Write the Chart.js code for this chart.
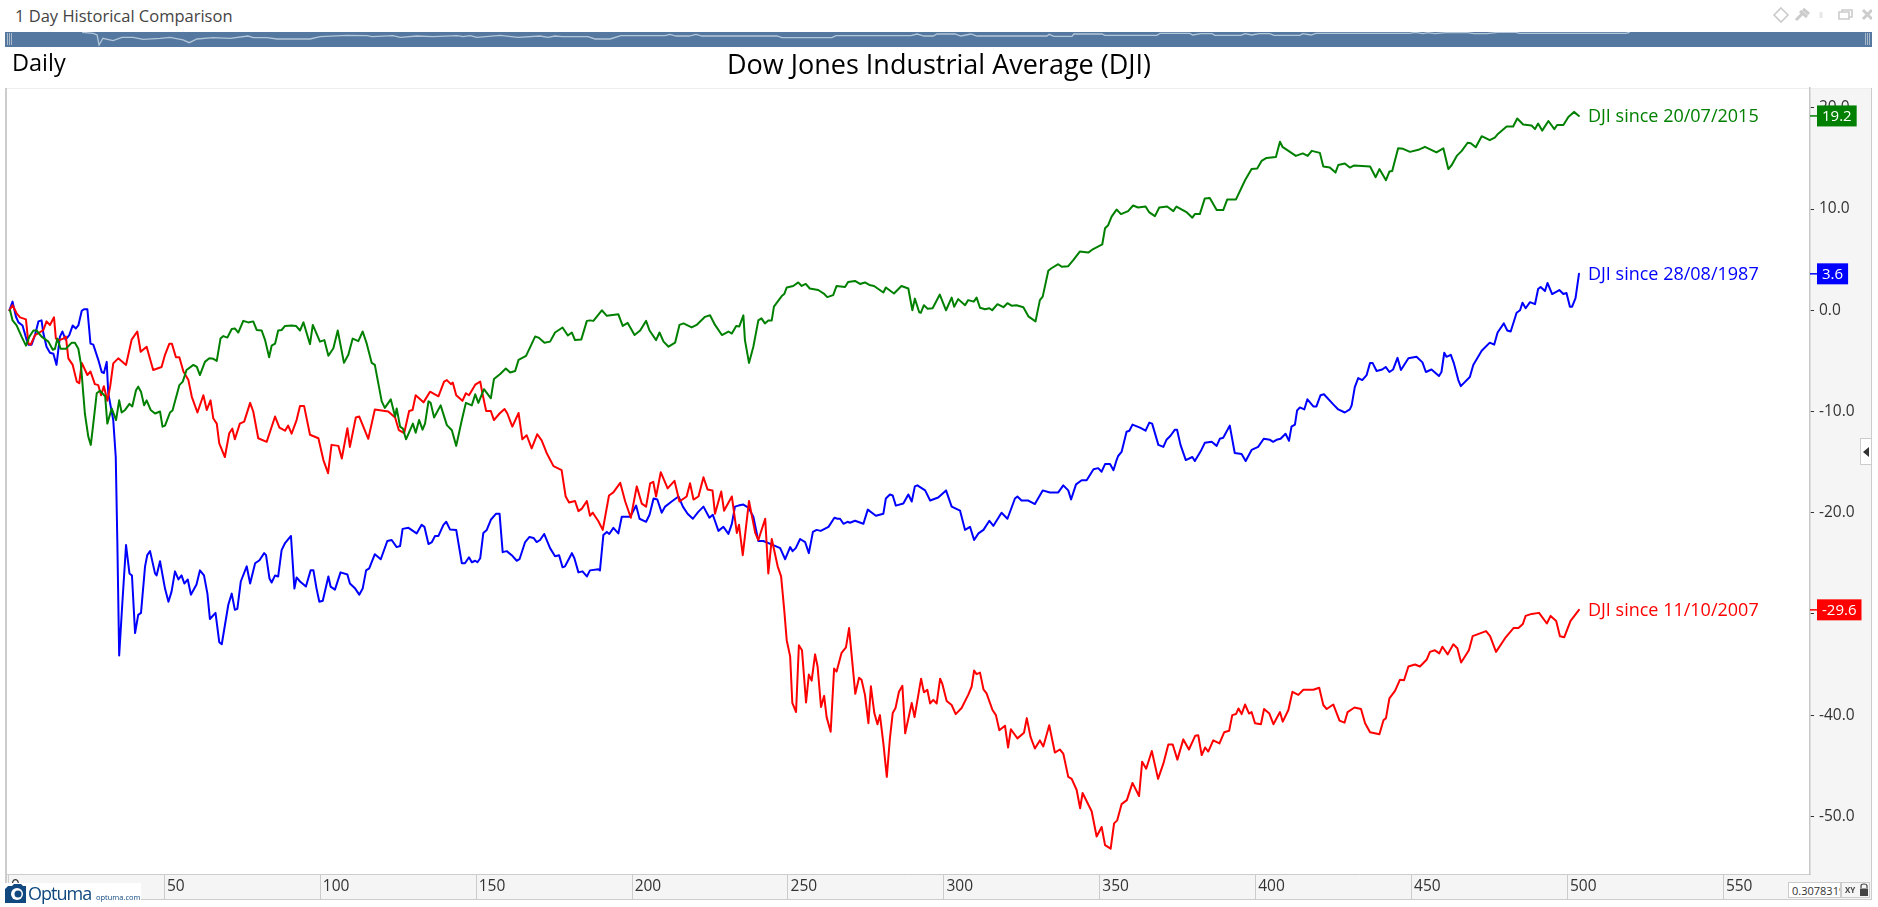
<!DOCTYPE html>
<html>
<head>
<meta charset="utf-8">
<title>Dow Jones Industrial Average (DJI)</title>
<script src="https://cdn.jsdelivr.net/npm/chart.js@4/dist/chart.umd.min.js"></script>
<style>
  html, body { margin: 0; padding: 0; background: #fff; width: 1878px; height: 907px; overflow: hidden; }
  body { font-family: "Open Sans", sans-serif; color: #333; }
  .abs { position: absolute; }
  #chart { position: absolute; left: 0; top: 0; }
  #overview { position: absolute; left: 5px; top: 32px; }
  .grip { position: absolute; top: 33px; width: 5px; height: 12px;
          background: repeating-linear-gradient(90deg, #a9b9ca 0 1px, transparent 1px 2px); }
</style>
</head>
<body>
<!-- panels behind the chart -->
<div class="abs" style="left:1810px;top:88px;width:61px;height:786px;background:#f5f5f5"></div>
<div class="abs" style="left:6px;top:874px;width:1865px;height:25px;background:#f5f5f5;border-bottom:1px solid #ccc"></div>
<div class="abs" style="left:6px;top:88px;width:1865px;height:1px;background:#eee"></div>
<div class="abs" style="left:5px;top:88px;width:2px;height:812px;background:#ccc"></div>
<div class="abs" style="left:1871px;top:88px;width:1px;height:812px;background:#ccc"></div>

<!-- header -->
<div class="abs" style="left:15px;top:5px;font-size:16.5px;line-height:22px;color:#444">1 Day Historical Comparison</div>
<svg class="abs" style="left:1772px;top:6px" width="100" height="18" fill="none" stroke="#ccc" stroke-width="1.6">
  <path d="M9 2 L16 9 L9 16 L2 9 Z"/>
  <path d="M24 14 L30 8 M28 5 L35 11 M31 3 L37 8" stroke-width="3"/>
  <path d="M49 6 V12" stroke="#e6e6e6" stroke-width="3"/>
  <path d="M67 6 H77 V13 H67 Z M70 6 V4 H80 V11 H77"/>
  <path d="M91 4 L100 13 M100 4 L91 13" stroke-width="3"/>
</svg>
<div class="abs" style="left:5px;top:32px;width:1867px;height:15px;background:#54789f"></div>
<canvas id="overview" width="1867" height="15"></canvas>
<div class="grip" style="left:7px"></div>
<div class="grip" style="left:1865px"></div>
<div class="abs" style="left:12px;top:47px;font-size:23.5px;line-height:30px;color:#000">Daily</div>
<div class="abs" style="left:0;top:47px;width:1878px;text-align:center;font-size:27px;line-height:34px;color:#000">Dow Jones Industrial Average (DJI)</div>

<canvas id="chart" width="1878" height="907"></canvas>

<!-- things sitting on top of the axes -->
<div class="abs" style="left:1860px;top:438px;width:11px;height:27px;background:#fff;border:1px solid #ccc;border-right:0;box-sizing:border-box"></div>
<svg class="abs" style="left:1862px;top:447px" width="8" height="10"><path d="M7 0 V10 L1 5 Z" fill="#333"/></svg>

<div class="abs" style="left:5px;top:883px;width:136px;height:17px;background:#fff"></div>
<svg class="abs" style="left:5px;top:883px" width="22" height="20">
  <path d="M3 3 H7 L9 1 H16 L18 3 H21 V20 H0 V6 Z" fill="#10487f"/>
  <circle cx="12" cy="11" r="6" fill="#fff"/>
  <circle cx="13" cy="11" r="3.5" fill="#10487f"/>
</svg>
<div class="abs" style="left:28px;top:880px;font-size:18px;line-height:26px;letter-spacing:-1px;color:#10487f">Optuma</div>
<div class="abs" style="left:96px;top:891px;font-size:7.5px;line-height:12px;color:#10487f">optuma.com</div>

<div class="abs" style="left:1788px;top:882px;width:53px;height:16px;background:#fff;border:1px solid #ccc;box-sizing:border-box;overflow:hidden;font-size:11px;line-height:15px;padding-left:3px;white-space:nowrap">0.3078319</div>
<div class="abs" style="left:1841px;top:882px;width:29px;height:16px;border:1px solid #ccc;box-sizing:border-box"></div>
<div class="abs" style="left:1845px;top:883px;font-size:8px;line-height:13px;font-weight:700;color:#444">XY</div>
<svg class="abs" style="left:1859px;top:883px" width="10" height="14">
  <path d="M2 5 V3 Q2 1 5 1 Q8 1 8 3 V5" fill="none" stroke="#444" stroke-width="1.2"/>
  <rect x="1" y="5.5" width="8" height="7.5" fill="#444"/>
</svg>

<script>
// Day counts and % change, one pair of arrays per line
const greenDays = [0.5,1.3,2.6,4.2,5.6,6.7,8,9,10.6,12.8,14.2,14.9,15.7,16.7,18.4,20.3,21.3,22.4,23.2,24.5,25.6,26.4,27.2,28.3,29.3,31,31.7,33.1,34.5,35.5,36.3,37.4,38.8,39.7,40.9,41.6,42.5,43.5,44.3,45.6,47,48.6,49.4,50.2,51.8,52.6,54.8,55.9,57.1,59.3,60.4,61.4,63,64.4,65.7,66.8,68,68.9,70.2,71.6,72.6,73.7,75.3,76.9,78.5,79.6,81.2,82.3,83.6,84.4,85.5,86.5,87.6,88.7,90.8,92.2,93.5,94.6,96.7,97.6,98.8,99.9,101.3,102.6,104.2,105.6,107.6,109,110.4,112.2,113.6,114.9,116.5,117.5,119.7,120.7,122.6,124,124.5,125.6,126.5,127.5,129.7,130.6,131.7,132.8,133.6,134.7,135.4,136.5,138.6,140.6,142.2,143.6,145.4,146.7,148.6,149.7,150.7,152.5,154.7,155.7,157.7,159.5,160.9,162.5,163.6,166,168.9,170,171.9,173.7,175.3,177.7,179.4,180.7,181.7,183.7,185.5,186.5,187.6,190.3,191.9,195.6,197,198.6,200.8,202.6,204.5,205.6,207.7,208.8,210.1,211.7,213.8,215.2,216.5,219.1,220.7,223.4,225,226.6,228.8,230.9,232,233.4,234.4,235.7,236.2,237.5,238.9,240.5,241.5,242.6,243.7,244.8,245.5,248,248.8,249.6,251.7,253.3,254.4,255.7,257,259.7,261.5,262.6,264.5,265.6,268.3,269.3,271.5,273.1,274.7,276.1,277.6,280.6,281.4,284,286.4,288.6,289.9,290.7,292.1,292.6,293.6,294.8,296.4,298.7,300.7,302.5,303.3,304.6,306.8,307.8,309.6,310.5,311.6,313.2,314.6,315.5,317.2,319.1,320.4,321.7,323.3,325.5,327.1,329.4,330.8,331.7,333.5,334.5,336.7,337.8,339.9,341.5,343.6,346.3,347.9,350.8,351.7,352.7,353.8,355.4,356.8,359.1,360.7,362.3,364.7,365.8,367.7,369.1,371.6,373.6,374.6,377.8,379.7,380.5,382.1,383.7,385.3,387.5,389.6,390.9,393.7,396.6,398.7,400.5,401.9,403.5,406.5,407.8,408.6,411,412.9,415.1,416.7,418,420.6,421.7,423.8,425.6,426.5,428.6,430.2,431.5,436.7,438.5,439.7,441.8,442.9,443.8,445.7,447.3,449.5,452.2,454.3,458,460.2,461.8,462.9,464.5,466.1,468,469,470.6,472.5,475.1,476.7,477.8,480.5,482.6,483.9,485.8,488.5,489.6,490.6,491.9,493.9,495.8,496.7,498.7,500.3,502.1,503.7];
const greenValues = [0,-1,-1.5,-2.6,-3.5,-2.6,-2,-2,-2.6,-3.1,-3.9,-3.8,-2.8,-3.8,-3.8,-3.2,-3.2,-3.8,-5.25,-10.2,-12.5,-13.3,-11.2,-8.2,-7.95,-8.5,-11.2,-9.7,-10.85,-8.9,-10.1,-9.85,-9.25,-9.5,-7.9,-7.55,-8.05,-9.4,-8.9,-9.85,-10.2,-10,-11.5,-11.4,-10.1,-9.9,-7.4,-7.05,-5.9,-5.4,-5.6,-6.4,-5.1,-4.75,-4.8,-5,-2.8,-2.55,-2.7,-1.85,-1.8,-2.2,-1.05,-1.2,-1.1,-1.95,-2,-2.95,-4.65,-3.5,-3.3,-2,-1.95,-1.55,-1.5,-1.55,-2,-1.2,-3.35,-1.45,-2.3,-3.1,-2.95,-4.5,-3.75,-2,-5.2,-4.4,-2.8,-3.05,-2.1,-3.3,-5.2,-5.4,-9,-9.65,-8.8,-10.5,-9.7,-11.5,-11.7,-12.75,-11.2,-12.1,-10.85,-11.8,-11.2,-9,-9.15,-10.6,-9.4,-11.35,-11.85,-13.4,-10.85,-9.15,-9.4,-8.3,-9.15,-7.8,-8.7,-6.8,-6.3,-5.75,-6.15,-6,-4.9,-4.5,-2.6,-2.7,-3.2,-3.1,-2.2,-1.7,-2.5,-2.2,-2.95,-2.9,-1.05,-1,-1.05,0,-0.55,-0.4,-1.55,-1.25,-2.45,-2,-1.05,-2,-2.95,-2.2,-3.1,-3.6,-3.2,-1.45,-1.3,-1.7,-1.45,-0.65,-0.5,-1.45,-2.45,-2.1,-2.3,-1.55,-1.6,-0.5,-2.95,-5.2,-3.6,-1,-0.8,-1.3,-1,-1,0.35,1.4,1.6,2.25,2.4,2.75,2.4,2.6,2.15,2,1.65,1.3,1.5,2.4,2.3,2.8,2.9,2.6,2.75,2.5,2.4,1.75,2.25,1.65,2.4,2.15,0,1.15,-0.2,-0.25,0.5,0.15,0.2,1.55,0,1.25,0.35,1.1,0.5,1,0.85,1.25,0.25,0.1,0.2,0,0.6,0.3,0.7,0.45,0.5,0.3,-0.6,-1.1,1,1.35,3.9,4.15,4.55,4.3,4.35,4.95,5.8,5.7,6.05,6.5,8.1,8.4,9.25,9.95,9.5,9.8,10.35,10.15,10.25,9.7,9.3,10.15,10.25,9.8,10.25,9.7,9.15,9.5,9.5,11.05,11.1,9.9,9.9,10.95,10.95,12.85,13.95,14,14.75,15.05,15.15,16.65,16.15,15.65,15.25,15.5,15.25,15.75,15.55,14.2,14.1,13.6,14.35,14.5,14.1,14.3,14.2,13.15,13.95,12.85,13.7,13.75,16,15.95,15.65,15.85,16.15,15.6,16,13.95,14.35,15.25,15.75,16.55,16.5,16.1,17.2,16.8,17.05,17.45,18.15,18.15,18.95,18.35,18.25,17.9,18.45,17.75,18.7,17.9,18.3,18.3,19.1,19.6,19.2];

const blueDays = [0.3,1.3,2.4,3.2,4.5,5.8,6.4,7.4,8.5,9.6,10.6,11.2,12.2,13.3,14.4,15.4,16.5,17.3,18.3,19.5,20.6,21.6,22.4,23.5,24.2,25.3,26.3,27.2,28.8,29.9,30.6,31.5,32,33.6,34.4,34.9,35.5,36.5,37.7,38.8,39.6,40.6,41.6,42.5,43.8,44.5,45.4,47,47.5,48.6,50.2,51.3,52.3,53.4,54.5,55.5,56.4,57.5,58.5,60.3,61.4,62.7,63.8,64.6,66.4,67.6,68.4,70.5,71.6,72.6,73.4,74.5,76.4,77.5,79.1,80.5,82,82.6,83.7,84.4,85.5,86.5,87.6,88.7,90.6,91.7,92.4,93.5,95.4,96.9,97.8,98.8,99.7,100.8,102.6,103.3,104.7,106.5,108.7,109.5,111.2,112.5,113.6,114.7,115.7,117.5,119.4,121.5,122.9,124.5,125.6,126.4,128.3,130.9,132.5,133.4,134.7,135.8,136.8,137.9,139.5,140.4,141.6,143.6,145.4,146.4,147.7,148.6,149.7,150.4,151.3,152.3,153.4,154.7,156.4,157.5,158.5,159.8,161.4,163,163.9,165.7,167.1,168.4,169.4,170.5,171.8,173.7,175.3,176.6,177.7,178.5,180.7,181.5,182.8,184.1,185.5,186.5,189.2,189.7,190.8,191.9,192.7,194,195.6,196.7,199.4,201.3,202.4,204.5,205.6,206.9,208.1,209.5,210.6,212.7,214.9,216.3,217.8,219.5,221.3,222.9,224.8,225.9,227.7,229.3,230.9,232,233,234.1,235.7,237.3,238.9,240.5,242.1,245.3,247.5,249.1,250.7,251.5,252.5,253.9,255.5,256.7,258,259.2,260.5,263,264.9,265.9,266.7,267.8,269.1,269.9,271.5,274.2,275.6,278.2,280.6,281.4,282.7,283.6,284.6,287,288.6,289.7,290.7,291.5,294,295.6,298.2,300.7,302.5,305.2,306.8,308.4,309.7,311.1,312.7,314.6,315.9,318.5,320.4,322.8,323.6,324.9,327.1,329.2,331.7,334,336.7,338.3,339.9,340.8,342.4,344.2,345.8,348,349.5,350.6,351.7,353.3,354.4,355.4,355.9,357,358.6,359.5,360.5,362.9,364.7,365.9,366.8,368.8,370.4,371.4,372.7,374.1,374.8,375.9,377.6,379.7,380.5,382.6,383.7,385.9,387.5,388.5,389.6,391.7,393.3,395.5,396.8,398.7,400.8,402.6,404.6,405.6,406.7,408,409.6,410.7,411.5,412.6,413.3,414.2,415.6,416.6,418.5,419.5,420.8,421.9,424.9,426.5,428.6,430.2,430.8,431.8,432.9,434.2,435.6,436.7,437.5,438.8,440.6,441.7,442.9,444.1,445.5,446.6,449,451.6,453.5,454.6,456.4,458.8,459.6,460.5,461.2,462.6,463.6,465,465.8,468.7,469.8,472.5,475.1,476.5,477.6,479.6,480.7,481.8,483.7,484.8,485.6,486.6,488,489.6,490.6,491.4,492.8,493.6,495.1,497.4,498.7,499.7,500.8,501.5,502.6,503.7];
const blueValues = [0,0.85,-0.64,-1.2,-1.5,-2.9,-3.4,-3.4,-2.45,-1.1,-1,-2.3,-3.6,-4.2,-4.3,-5.4,-2.6,-2.1,-2.9,-2.45,-1.5,-1.8,-1.5,-0.05,0.1,0.1,-3.3,-3.4,-4.9,-6.1,-6.2,-5.1,-8.2,-10.85,-14.5,-22.7,-34.1,-29,-23.2,-26,-26.2,-31.9,-30.1,-29.9,-25.3,-24.2,-23.8,-26,-26.2,-24.8,-27.5,-28.8,-27.8,-25.8,-26.6,-26.2,-27,-26.6,-28.1,-27.1,-25.7,-26.2,-28,-30.5,-29.9,-32.8,-33,-29.1,-28,-29.6,-29.5,-26.8,-25.3,-27,-25,-24.7,-24,-24.2,-26.5,-26.9,-26.2,-26.3,-23.7,-23,-22.3,-27.5,-26.4,-26.8,-27.3,-25.7,-25.7,-27.5,-28.8,-28.7,-26.3,-27.3,-27.6,-25.9,-26.1,-27,-27.5,-28.1,-27.5,-25.7,-25.5,-24.1,-24.6,-22.8,-22.7,-23.4,-23.3,-21.6,-21.5,-22.05,-21.2,-21.4,-23.1,-22.9,-22.3,-22.3,-21.2,-20.9,-21.65,-21.7,-25,-25,-24.4,-24.9,-24.75,-24.9,-24.5,-22,-21.7,-20.7,-20.1,-20.1,-23.9,-23.8,-24.2,-24.75,-24.6,-22.9,-22.4,-22.5,-22.9,-22.7,-22.1,-23.5,-24.3,-24.2,-25.4,-25.3,-24,-24.5,-25.9,-25.8,-26.3,-25.7,-25.6,-25.7,-22.2,-21.9,-22.1,-21.5,-22.05,-20.4,-20.4,-19.3,-20.6,-20.9,-20.2,-18.6,-18.7,-20,-19.4,-18.9,-18.4,-19.4,-20.1,-20.6,-19.9,-19.4,-20.5,-20.2,-21.8,-21.4,-22.1,-21.1,-19.4,-19.3,-19.2,-19.5,-20.4,-22.8,-22.8,-23.2,-23.5,-24.6,-23.4,-23.8,-23.5,-22.6,-22.9,-24,-21.9,-21.7,-21.8,-21.4,-20.5,-20.6,-20.6,-21.1,-20.9,-21,-20.8,-21.1,-19.7,-20.3,-20.1,-18.6,-18.2,-18.3,-19.3,-19.1,-18.2,-18.9,-17.4,-17.3,-17.8,-18.8,-18.5,-17.8,-19.4,-19.8,-21.7,-21.4,-22.7,-22.05,-21.7,-20.8,-21.3,-20,-20.6,-18.6,-18.4,-18.8,-18.8,-19.15,-17.8,-18,-18,-17.3,-17.8,-18.7,-17.2,-16.8,-16.8,-15.7,-15.6,-15.95,-15.2,-15.2,-15.8,-14.8,-14.4,-14,-12,-11.9,-11.3,-11.6,-11.9,-11.1,-11.2,-13.3,-13.5,-12.8,-12.4,-11.8,-11.8,-13.3,-14.8,-14.5,-14.9,-13.8,-13.1,-13,-13.4,-12.7,-12.6,-11.4,-14.1,-14.2,-14.9,-13.8,-13.5,-12.7,-12.8,-13,-12.8,-12.7,-12.2,-12.9,-11.5,-11.3,-9.9,-9.6,-9.8,-8.8,-9.5,-9.5,-8.4,-8.3,-9.3,-9.8,-10.1,-9.8,-9.4,-7.6,-6.7,-6.9,-6.4,-5.2,-5.2,-6,-5.85,-5.6,-6.1,-5.85,-4.7,-5.9,-4.75,-4.6,-5.15,-6.1,-5.85,-6.5,-6.1,-4.2,-4.6,-4.4,-5.25,-6.9,-7.5,-6.6,-5.4,-4,-3.2,-3.4,-2.2,-1.3,-2,-2.1,-0.25,0,0.75,0.2,0.8,0.6,2.1,2.3,1.9,2.7,1.6,2,1.6,1.7,0.35,0.35,1.2,3.6];

const redDays = [0.3,1.3,2.6,3.7,5.6,6.4,7.1,8.5,9.9,11.2,12.2,13.3,14.6,15.2,16.3,17.6,18.4,19.2,20.6,21.9,22.7,23.5,25.3,26.3,27.7,28.8,29.7,30.6,31.7,32.6,33.6,35.2,37.7,39.5,41.3,42.4,44.3,46.4,49.1,50.2,51.6,52.4,53.7,54.8,56.1,57.7,58.8,60.6,62.5,63.6,64.8,65.7,66.8,67.6,69.4,70.8,71.8,72.6,74.2,75.6,77.5,78.5,80.1,82.8,85.5,86.9,88.7,89.7,90.8,92.4,93.5,94.8,96.7,99.4,101,102.5,103.6,105.8,106.9,108.7,109.5,111.4,112.5,115.4,117.5,121.8,124,125.2,126.9,128.5,129.6,130.6,133.1,135.2,137.9,139.7,140.6,141.9,142.5,143.6,145.6,146.7,147.7,149.7,151.3,152,153.2,154.7,155.7,157.5,159.1,160,161.6,163.6,164.8,166.2,167.8,169.6,171,172.6,174.8,177.4,178.7,179.8,181.7,182.8,183.9,185.5,186.5,187.4,189.2,190.6,192.6,194,196.2,197.8,199.6,201.5,203.1,204.5,205.8,206.8,207.7,209.2,211.4,213.6,215.2,217.5,218.6,219.7,221.3,222.9,224.2,225.8,226.6,228.6,229.5,232,233.6,234.3,235.5,237.5,239.5,240.5,242.7,243.7,244.8,246.7,247.8,248.8,249.6,250.7,251.4,252.6,253.5,254.5,255.8,256.7,257.6,258.7,259.5,260.6,261.6,262.4,263.7,264.8,265.6,267.2,268.6,269.6,271.6,272.8,273.6,274.7,275.8,276.6,277.7,278.7,279.5,280.6,281.7,282.7,283.6,284.5,285.6,286.7,287.6,289.7,290.6,292.7,293.6,294.7,295.6,296.6,297.7,298.8,299.5,300.9,302.5,303.8,305.7,307.8,308.9,309.7,310.5,311.6,312.7,313.7,315.6,316.7,317.8,319.6,320.6,321.5,323.6,325.7,326.6,327.8,329.2,330.8,331.9,333.8,335.6,337.2,338.3,339.9,341,342.6,343.7,344.5,347.4,349,350.6,351.7,353.5,354.6,355.6,357,358.7,360.5,362.6,363.6,364.9,366.7,368.7,370.4,372,373.4,374.9,376.8,378.6,380.6,381.6,382.7,383.8,384.8,386.4,388.4,389.9,391.5,392.5,393.7,394.5,395.5,396.6,397.9,398.7,399.8,401.7,402.7,404.4,405.7,407.8,408.7,410.5,411.8,413.7,415.3,418.5,420.4,421.7,422.8,424.9,426.9,428.5,429.5,431.7,433.8,435.1,436.7,439.7,441,441.8,442.9,444.7,446.3,447.6,449,451.1,452.7,454.9,455.9,457.5,458.9,459.9,461.6,463.4,464.7,465.9,468.4,469.6,473.9,475.2,477.1,480,482.7,484.3,485.7,486.6,488.5,490.9,493.4,494.6,496.4,497.6,499,501,503.7];
const redValues = [0,0.5,-0.3,-0.7,-0.9,-3.3,-3.4,-2.45,-2.2,-1.95,-1.1,-1.45,-0.7,-2.8,-2.95,-2.8,-2.6,-4.75,-5.4,-7.05,-7.2,-5.2,-6.4,-6.05,-7.3,-7.4,-8.4,-7.5,-8.95,-7.55,-5.25,-4.75,-5.4,-2.9,-2.1,-4.1,-3.6,-5.9,-5.6,-4.4,-3.3,-3.3,-4.65,-4.65,-6.05,-6.9,-8.55,-10.1,-8.4,-9.85,-8.9,-10.7,-11.2,-13.15,-14.5,-12.15,-11.7,-12.75,-11.2,-11,-9.15,-10,-12.65,-13,-10.5,-11.6,-11.9,-11.4,-12.2,-10.85,-9.45,-9.45,-12.3,-12.65,-14.8,-16.1,-13.3,-13.4,-14.65,-11.65,-13.5,-10.6,-10.5,-12.7,-9.8,-10,-10.6,-11.85,-12.15,-9.95,-9.85,-8.4,-9.1,-8.05,-8.5,-7.05,-6.9,-7.3,-7.15,-8.4,-8.95,-8.2,-8.4,-7.35,-7.05,-8.2,-9.95,-9.95,-10.85,-10.2,-9.75,-10.2,-11.5,-10.15,-12.75,-12.35,-13.65,-12.25,-12.85,-14.1,-15.4,-15.8,-18.4,-19,-18.85,-19.85,-19.6,-18.85,-20.3,-20,-20.85,-21.7,-18.3,-18,-17.05,-18.9,-20.5,-17.4,-19.1,-19.4,-17.1,-16.95,-18.4,-16,-17.6,-16.85,-18.9,-18.4,-17.1,-18.7,-18.4,-16.5,-17.7,-17.8,-20.1,-17.9,-19.8,-18.4,-22,-21.2,-24.2,-18.85,-22,-22.7,-20.6,-26,-22.6,-25.3,-26.3,-29.6,-32.6,-34.2,-38.8,-39.7,-33.1,-33.6,-38.75,-36,-36.6,-34,-35.2,-39.2,-38.1,-40.2,-41.65,-35.4,-35.7,-33.85,-33.3,-31.4,-37.9,-36.3,-36.5,-38,-40.8,-37.15,-39.8,-40.9,-40,-42.8,-46.1,-42.3,-39.8,-39.3,-37.7,-37.1,-41.8,-38.8,-40.2,-36.4,-37.75,-37.5,-38.85,-38.5,-38.85,-36.4,-36.9,-38.6,-39,-39.9,-39.3,-38,-37.2,-35.6,-35.95,-35.8,-37.45,-37.85,-39.5,-40,-41.5,-41.05,-43.2,-41.4,-42.3,-41.75,-40.3,-42.15,-43.3,-42.5,-43.1,-41,-43.7,-43.4,-43.8,-46.1,-46.3,-47.4,-49.2,-47.7,-49.5,-52,-51.05,-52.85,-53.2,-50.7,-50.4,-48.8,-48.4,-46.7,-48,-44.6,-45.3,-43.55,-46.3,-44.8,-42.9,-42.9,-44.4,-42.4,-43.4,-42.05,-42,-43.95,-43.2,-43.6,-42.5,-42.8,-41.7,-41.55,-40,-39.9,-39.35,-39.9,-38.95,-39.85,-39.7,-40.8,-40.9,-39.4,-39.85,-40.9,-39.7,-40.65,-39.5,-37.7,-38,-37.5,-37.5,-37.3,-39,-39.4,-38.95,-40.55,-40.75,-39.7,-39.25,-39.4,-40.8,-41.7,-41.9,-40.5,-40.3,-38.35,-37.6,-36.5,-36.55,-35.2,-35,-35.2,-34.5,-33.75,-33.6,-33.9,-33.25,-34,-33,-33.4,-34.8,-33.6,-32.2,-31.7,-32.2,-33.75,-32.4,-31.4,-31.4,-31,-30.2,-30,-29.9,-30.95,-30.2,-30.7,-32.2,-32.3,-30.7,-29.6];

// the thin line in the top strip
const overviewDays = [30.3,33.7,34.9,35.5,36.7,39.8,42.5,45.9,49,54.2,57.2,61.2,63.1,65.5,70.4,75.6,81.1,82.7,86.9,90,100.1,103.2,111.4,117.6,119.1,125.5,127.7,132.9,137.8,145.1,147,149.1,151.2,158.3,163.8,170.5,173,175.1,177.3,185.2,187.4,192,195.3,208.8,210.3,212.2,216.2,218.3,220.1,243.1,244.6,259.9,261.2,284.1,286,288.1,290.9,292.1,297.6,299.4,302.5,304.3,325.8,326.4,327.9,333.4,334,342.6,343.5,359.4,360.4,369.5,370.4,372.9,376.3,377.2,385.2,386.4,388.5,390.7,394,395.3,403.2,404.1,406.6,408.1,436.9,438.4,440.9,442.4,444.6,447.9,454.6,456.5,460.5,463.8,469.3,470.5,503,504.2];
const overviewValues = [5.6,2.7,-2.2,-31,-11.7,-18.6,-8.8,-8.8,-14.6,-11.7,-8.8,-16.6,-24.4,-13.7,-10,-11.7,-5.1,-10,-10,-13.7,-13.7,-7.1,-3,-4.2,-7.1,-4.2,-8.8,-5.1,-7.1,-4.2,-7.1,-4.2,-8.8,-3,-8.8,-5.1,-8.8,-5.1,-7.1,-7.1,-13.7,-13.7,-4.2,-4.2,-0.2,-5.1,-5.1,-0.2,-5.1,-5.1,-10,-10,-4.2,-4.2,0.7,-5.1,-5.1,0.7,0.7,-5.1,0.7,-5.1,-5.1,-0.2,-6,-6,0.7,0.7,-3,-3,2.7,2.7,-2.2,1.6,1.6,-3,-3,1.6,-2.2,1.6,1.6,-3,-3,1.6,-2.2,2.7,2.7,5.6,1.6,4.5,1.6,4.5,4.5,1.6,1.6,5.6,5.6,2.7,2.7,5.6];

const xTickValues = [0, 50, 100, 150, 200, 250, 300, 350, 400, 450, 500, 550];
const yTickValues = [20, 10, 0, -10, -20, -30, -40, -50];
const seriesNames = ["DJI since 20/07/2015", "DJI since 11/10/2007", "DJI since 28/08/1987"];
const seriesEndLabels = ["19.2", "-29.6", "3.6"];
const seriesColors = ["#008000", "#ff0000", "#0000ff"];

const zip = (xs, ys) => xs.map((x, i) => ({ x: x, y: ys[i] }));
const FONT = '"Open Sans", sans-serif';

// series name next to the end of each line, coloured value box on the price axis
const endLabels = {
  id: "endLabels",
  afterDraw(chart) {
    const ctx = chart.ctx;
    const axis = chart.scales.y;
    ctx.save();
    ctx.textBaseline = "middle";
    chart.data.datasets.forEach((ds, i) => {
      const meta = chart.getDatasetMeta(i);
      const last = meta.data[meta.data.length - 1];
      const y = axis.getPixelForValue(ds.data[ds.data.length - 1].y);

      ctx.font = "18px " + FONT;
      ctx.textAlign = "left";
      ctx.fillStyle = ds.borderColor;
      ctx.fillText(ds.label, last.x + 9, y + 1);

      ctx.font = "15px " + FONT;
      const w = ctx.measureText(seriesEndLabels[i]).width + 10;
      ctx.strokeStyle = ds.borderColor;
      ctx.lineWidth = 1.5;
      ctx.beginPath();
      ctx.moveTo(axis.left, y);
      ctx.lineTo(axis.left + 7, y);
      ctx.stroke();
      ctx.fillRect(axis.left + 7, y - 10.5, w, 21);
      ctx.fillStyle = "#fff";
      ctx.fillText(seriesEndLabels[i], axis.left + 12, y + 0.5);
    });
    ctx.restore();
  }
};

new Chart(document.getElementById("chart"), {
  type: "line",
  data: {
    datasets: [
      { label: seriesNames[0], data: zip(greenDays, greenValues), borderColor: seriesColors[0] },
      { label: seriesNames[1], data: zip(redDays, redValues), borderColor: seriesColors[1] },
      { label: seriesNames[2], data: zip(blueDays, blueValues), borderColor: seriesColors[2] }
    ]
  },
  options: {
    responsive: false,
    animation: false,
    parsing: false,
    normalized: true,
    layout: { padding: { left: 6, top: 88, right: 7, bottom: 7 } },
    elements: {
      point: { radius: 0 },
      line: { borderWidth: 2, tension: 0, borderJoinStyle: "round", borderCapStyle: "round" }
    },
    plugins: {
      legend: { display: false },
      tooltip: { enabled: false },
      title: { display: false }
    },
    scales: {
      x: {
        type: "linear",
        min: -0.8,
        max: 577.8,
        afterBuildTicks: (axis) => { axis.ticks = xTickValues.map((v) => ({ value: v })); },
        afterFit: (axis) => { axis.height = 26; },
        grid: { drawOnChartArea: false, drawTicks: true, tickLength: 26, tickColor: "#ccc", tickWidth: 1 },
        border: { display: true, color: "#ccc", width: 1 },
        ticks: {
          autoSkip: false,
          maxRotation: 0,
          align: "start",
          padding: -23,
          color: "#333",
          font: { family: FONT, size: 15.5 },
          callback: (v) => "\u2009" + v
        }
      },
      y: {
        type: "linear",
        position: "right",
        min: -55.7,
        max: 21.96,
        afterBuildTicks: (axis) => { axis.ticks = yTickValues.map((v) => ({ value: v })); },
        afterFit: (axis) => { axis.width = 61; },
        grid: { drawOnChartArea: false, drawTicks: true, tickLength: 4, tickColor: "#333", tickWidth: 1 },
        border: { display: true, color: "#c8c8c8", width: 1.5 },
        ticks: {
          autoSkip: false,
          crossAlign: "near",
          padding: 5,
          color: "#333",
          font: { family: FONT, size: 15.5 },
          callback: (v) => v.toFixed(1)
        }
      }
    }
  },
  plugins: [endLabels]
});

// small preview line in the blue strip
new Chart(document.getElementById("overview"), {
  type: "line",
  data: {
    datasets: [{ data: zip(overviewDays, overviewValues), borderColor: "#b4c6d9", borderWidth: 1.3, pointRadius: 0, tension: 0 }]
  },
  options: {
    responsive: false,
    animation: false,
    parsing: false,
    layout: { padding: 0 },
    plugins: { legend: { display: false }, tooltip: { enabled: false } },
    scales: {
      x: { type: "linear", display: false, min: 6.7, max: 578.4 },
      y: { type: "linear", display: false, min: -36.9, max: 6.5 }
    }
  }
});
</script>
</body>
</html>
